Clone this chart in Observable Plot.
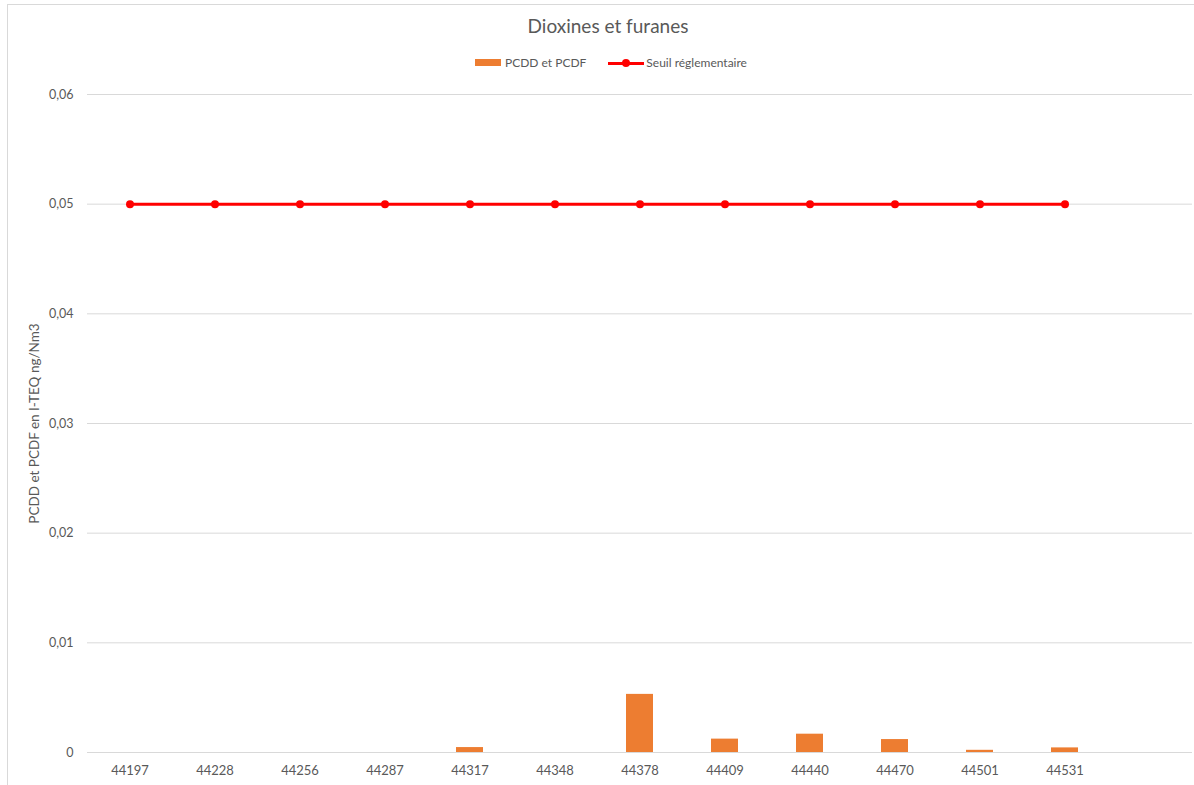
<!DOCTYPE html>
<html>
<head>
<meta charset="utf-8">
<script src="https://cdn.jsdelivr.net/npm/d3@7"></script>
<script src="https://cdn.jsdelivr.net/npm/@observablehq/plot@0.6"></script>
<style>
  html, body { margin: 0; padding: 0; background: #fff; overflow: hidden; }
  body { width: 1194px; height: 785px; position: relative; font-family: Lato, "Open Sans", sans-serif; color: #595959; }
  #frame { position: absolute; left: 7px; top: 4px; width: 1187px; height: 781px; border: 1px solid #d9d9d9; border-right: none; border-bottom: none; box-sizing: border-box; }
  #title { position: absolute; left: 0; width: 1216px; top: 14px; text-align: center; font-size: 19px; color: #595959; }
  #legend { position: absolute; left: 475px; top: 55px; font-size: 12px; color: #595959; display: flex; align-items: center; white-space: nowrap; }
  .sw-bar { display: inline-block; width: 26px; height: 7px; background: #ED7D31; margin-right: 4px; }
  .sw-line { display: inline-block; position: relative; width: 36px; height: 12px; margin-left: 22px; margin-right: 2px; }
  .sw-line::before { content: ""; position: absolute; left: 0; right: 0; top: 5px; height: 3px; background: #FF0000; }
  .sw-line::after { content: ""; position: absolute; left: 14px; top: 2px; width: 8px; height: 8px; border-radius: 50%; background: #FF0000; }
  #chart { position: absolute; left: 0; top: 80px; }
</style>
</head>
<body>
<div id="frame"></div>
<div id="title">Dioxines et furanes</div>
<div id="legend"><span class="sw-bar"></span><span>PCDD et PCDF</span><span class="sw-line"></span><span>Seuil réglementaire</span></div>
<div id="chart"></div>
<script>
// Data
const categories = ["44197","44228","44256","44287","44317","44348","44378","44409","44440","44470","44501","44531",""];
const pcddValues = [0, 0, 0, 0, 0.00045, 0, 0.0053, 0.00122, 0.00167, 0.00118, 0.0002, 0.00042, null];
const seuilValues = [0.05,0.05,0.05,0.05,0.05,0.05,0.05,0.05,0.05,0.05,0.05,0.05, null];
const yTicks = [0, 0.01, 0.02, 0.03, 0.04, 0.05, 0.06];
const yLabel = "PCDD et PCDF en I-TEQ ng/Nm3";

const bars = categories.map((c, i) => ({cat: c, key: i, v: pcddValues[i]})).filter(d => d.v != null && d.v > 0);
const line = categories.map((c, i) => ({cat: c, key: i, v: seuilValues[i]})).filter(d => d.v != null);
const keys = categories.map((c, i) => i);

const fmt = d => d === 0 ? "0" : d.toFixed(2).replace(".", ",");

const plot = Plot.plot({
  width: 1194,
  height: 705,
  marginLeft: 87,
  marginRight: 2,
  marginTop: 14,
  marginBottom: 33,
  style: { fontFamily: "Lato, 'Open Sans', sans-serif", fontSize: "12px", color: "#595959", background: "transparent" },
  x: { type: "band", domain: keys, paddingInner: 0, paddingOuter: 0 },
  y: { domain: [0, 0.06] },
  marks: [
    Plot.ruleY(yTicks, { stroke: "#d9d9d9", strokeWidth: 1 }),
    Plot.axisY({ ticks: yTicks, tickFormat: fmt, tickSize: 0, tickPadding: 14, fontSize: 12.5, label: null }),
    Plot.axisY({ ticks: [], label: yLabel, labelAnchor: "center", labelArrow: "none", labelOffset: 58, fontSize: 13.5 }),
    Plot.axisX({ tickSize: 0, tickPadding: 13, tickFormat: i => categories[i], label: null, fontSize: 13 }),
    Plot.barY(bars, { x: "key", y: "v", fill: "#ED7D31", insetLeft: 29, insetRight: 29 }),
    Plot.line(line, { x: "key", y: "v", stroke: "#FF0000", strokeWidth: 3 }),
    Plot.dot(line, { x: "key", y: "v", fill: "#FF0000", r: 4 })
  ]
});
document.getElementById("chart").appendChild(plot);
</script>
</body>
</html>
